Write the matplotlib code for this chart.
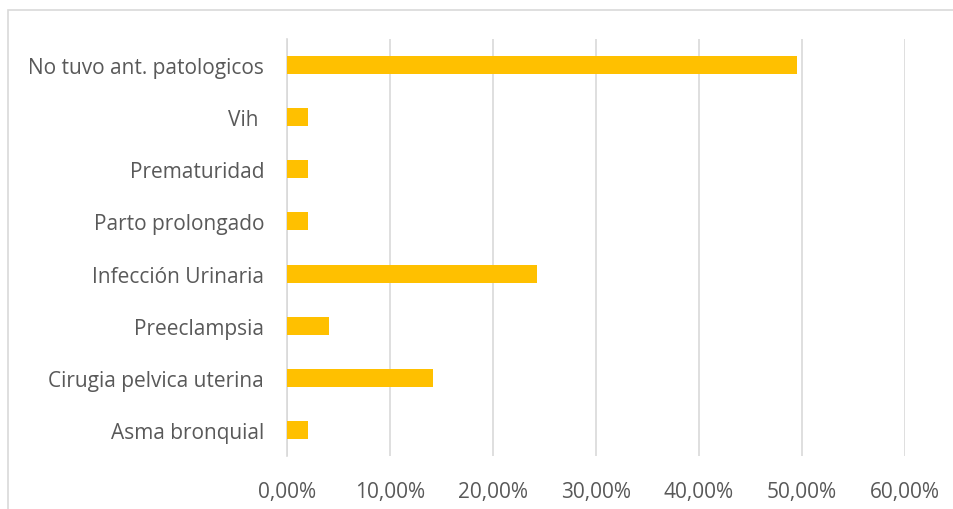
import matplotlib.pyplot as plt
from matplotlib.patches import Rectangle
from matplotlib.ticker import FuncFormatter

categorias = [
    "No tuvo ant. patologicos",
    "Vih ",
    "Prematuridad",
    "Parto prolongado",
    "Infección Urinaria",
    "Preeclampsia",
    "Cirugia pelvica uterina",
    "Asma bronquial",
]
porcentajes = [49.49, 2.02, 2.02, 2.02, 24.24, 4.04, 14.14, 2.02]
ticks_x = [0, 10, 20, 30, 40, 50, 60]

plt.rcParams["font.family"] = ["Open Sans", "DejaVu Sans"]
GRIS = "#595959"

fig = plt.figure(figsize=(9.54, 5.10), dpi=100)
ax = fig.add_axes([287 / 954, 1 - 457 / 510, 618 / 954, 417 / 510])

pos = list(range(len(categorias)))
ax.barh(pos, porcentajes, height=0.345, color="#FFC000", zorder=3)

ax.set_ylim(len(categorias) - 0.5, -0.5)
ax.set_xlim(0, 60)
ax.set_yticks(pos)
ax.set_yticklabels(categorias)
ax.set_xticks(ticks_x)
ax.xaxis.set_major_formatter(FuncFormatter(lambda v, _: f"{v:.2f}%".replace(".", ",")))

ax.grid(axis="x", color="#D9D9D9", linewidth=1.2, zorder=0)
for s in ["top", "right", "bottom"]:
    ax.spines[s].set_visible(False)
ax.spines["left"].set_color("#D9D9D9")
ax.spines["left"].set_linewidth(1.2)
ax.tick_params(axis="both", length=0, labelsize=15, colors=GRIS)
ax.tick_params(axis="x", pad=18)
ax.tick_params(axis="y", pad=16.5)

fig.patches.append(Rectangle((8 / 954, -0.01), 1, 1 - 11 / 510 + 0.01,
                             transform=fig.transFigure, fill=False,
                             edgecolor="#D9D9D9", linewidth=1.2))

fig.savefig("out.png", dpi=100)
